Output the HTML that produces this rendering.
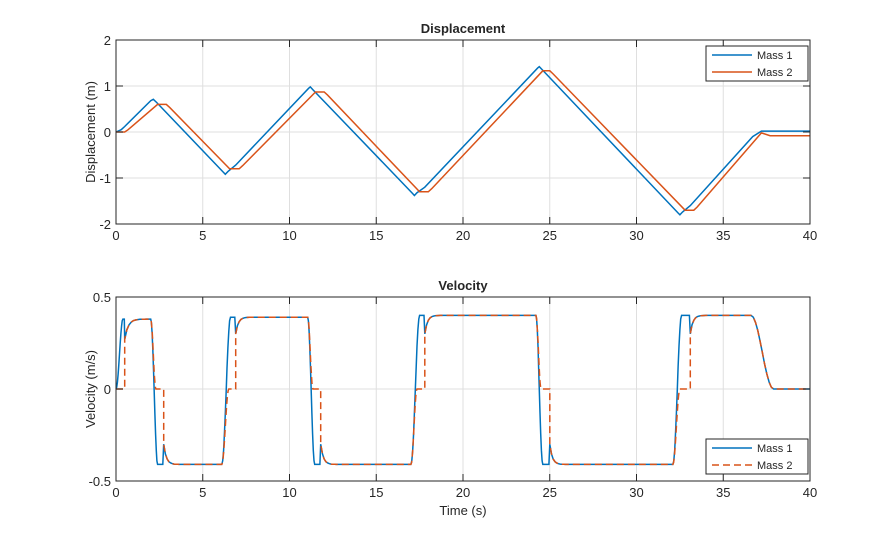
<!DOCTYPE html>
<html><head><meta charset="utf-8"><style>
body{margin:0;background:#fff;}
svg text{font-family:"Liberation Sans",Arial,sans-serif;fill:#262626;}
</style></head><body>
<svg id="s" width="895" height="540" xmlns="http://www.w3.org/2000/svg">
<rect width="895" height="540" fill="#fff"/>
<g id="g"></g>
</svg>
<script>
const g=document.getElementById('g');
let h='';
const X=t=>116+694*t/40;
function axes(top,bot,yt,ylab,title,yfmt){
  // grid
  for(let t=0;t<=40;t+=5){const x=X(t);h+=`<line x1="${x}" y1="${top}" x2="${x}" y2="${bot}" stroke="#dfdfdf" stroke-width="1"/>`;}
  yt.forEach(([v,y])=>{h+=`<line x1="116" y1="${y}" x2="810" y2="${y}" stroke="#dfdfdf"/>`;});
}
function frame(top,bot,yt,ylab,title){
  h+=`<rect x="116" y="${top}" width="694" height="${bot-top}" fill="none" stroke="#262626" stroke-width="1"/>`;
  for(let t=0;t<=40;t+=5){const x=X(t);h+=`<line x1="${x}" y1="${bot}" x2="${x}" y2="${bot-7}" stroke="#262626"/><line x1="${x}" y1="${top}" x2="${x}" y2="${top+7}" stroke="#262626"/><text x="${x}" y="${bot+16}" font-size="13" text-anchor="middle">${t}</text>`;}
  yt.forEach(([v,y])=>{h+=`<line x1="116" y1="${y}" x2="123" y2="${y}" stroke="#262626"/><line x1="810" y1="${y}" x2="803" y2="${y}" stroke="#262626"/><text x="111" y="${y+5}" font-size="13" text-anchor="end">${v}</text>`;});
  h+=`<text x="463" y="${top-7}" font-size="13" font-weight="bold" text-anchor="middle">${title}</text>`;
  const cy=(top+bot)/2;
  h+=`<text transform="translate(95,${cy}) rotate(-90)" font-size="13" text-anchor="middle">${ylab}</text>`;
}
function poly(pts,yf,col,dash){
  const s=pts.map(p=>X(p[0]).toFixed(1)+','+yf(p[1]).toFixed(1)).join(' ');
  h+=`<polyline points="${s}" fill="none" stroke="${col}" stroke-width="1.5" ${dash?'stroke-dasharray="7,4"':''}/>`;
}
const B='#0072bd',O='#d95319';
// top
const y1=v=>132-46*v;
axes(40,224,[[2,40],[1,86],[0,132],[-1,178],[-2,224]]);
poly([[0,0],[0.3,0.05],[0.5,0.12],[2.0,0.68],[2.15,0.71],[2.35,0.64],[6.2,-0.88],[6.3,-0.92],[6.45,-0.86],[6.9,-0.72],[11.1,0.95],[11.2,0.98],[11.35,0.92],[17.1,-1.34],[17.2,-1.38],[17.35,-1.32],[17.8,-1.2],[24.3,1.39],[24.4,1.42],[24.55,1.36],[32.4,-1.76],[32.5,-1.8],[32.65,-1.74],[33.1,-1.6],[36.7,-0.1],[37.2,0.02],[40,0.02]],y1,B);
poly([[0,0],[0.5,0],[0.7,0.05],[2.4,0.6],[2.9,0.6],[3.1,0.53],[6.55,-0.8],[7.1,-0.8],[7.3,-0.73],[11.5,0.87],[12.0,0.87],[12.2,0.8],[17.5,-1.3],[18.0,-1.3],[18.2,-1.23],[24.6,1.33],[25.0,1.33],[25.2,1.26],[32.8,-1.7],[33.3,-1.7],[33.5,-1.63],[37.2,-0.02],[37.7,-0.08],[40,-0.08]],y1,O);
frame(40,224,[[2,40],[1,86],[0,132],[-1,178],[-2,224]],'Displacement (m)','Displacement');
// bottom
const y2=v=>389-184*v;
axes(297,481,[[0.5,297],[0,389],[-0.5,481]]);
// smooth approach helper
function approach(t0,v0,v1,tau,dur){const a=[];for(let i=0;i<=12;i++){const t=t0+dur*i/12;a.push([t,v1+(v0-v1)*Math.exp(-(t-t0)/tau)]);}return a;}
function fall(t0,t1,v0,v1){const a=[];for(let i=0;i<=10;i++){const f=i/10;const s=(1-Math.cos(Math.PI*f))/2;a.push([t0+(t1-t0)*f,v0+(v1-v0)*s]);}return a;}
let m2=[[0,0],[0.5,0],[0.5,0.27]];
m2=m2.concat(approach(0.5,0.27,0.38,0.2,1.5));
m2=m2.concat(fall(2.0,2.3,0.38,0)).concat([[2.75,0],[2.75,-0.3]]).concat(approach(2.75,-0.3,-0.41,0.15,1.2));
m2=m2.concat([[6.1,-0.41]]).concat(fall(6.1,6.5,-0.41,0)).concat([[6.9,0],[6.9,0.3]]).concat(approach(6.9,0.3,0.39,0.15,1.2));
m2=m2.concat([[11.05,0.39]]).concat(fall(11.05,11.35,0.39,0)).concat([[11.8,0],[11.8,-0.3]]).concat(approach(11.8,-0.3,-0.41,0.15,1.2));
m2=m2.concat([[17.0,-0.41]]).concat(fall(17.0,17.35,-0.41,0)).concat([[17.8,0],[17.8,0.3]]).concat(approach(17.8,0.3,0.4,0.15,1.2));
m2=m2.concat([[24.2,0.4]]).concat(fall(24.2,24.5,0.4,0)).concat([[25.0,0],[25.0,-0.3]]).concat(approach(25.0,-0.3,-0.41,0.15,1.2));
m2=m2.concat([[32.1,-0.41]]).concat(fall(32.1,32.5,-0.41,0)).concat([[33.1,0],[33.1,0.3]]).concat(approach(33.1,0.3,0.4,0.15,1.2));
m2=m2.concat([[36.6,0.4]]).concat(fall(36.6,37.9,0.4,0)).concat([[40,0]]);
let m1=[];
m1=m1.concat(fall(0,0.4,0,0.38)).concat([[0.48,0.38],[0.5,0.27]]).concat(approach(0.5,0.27,0.38,0.2,1.5));
m1=m1.concat(fall(2.0,2.4,0.38,-0.41)).concat([[2.7,-0.41],[2.75,-0.3]]).concat(approach(2.75,-0.3,-0.41,0.15,1.2));
m1=m1.concat([[6.1,-0.41]]).concat(fall(6.1,6.6,-0.41,0.39)).concat([[6.85,0.39],[6.9,0.3]]).concat(approach(6.9,0.3,0.39,0.15,1.2));
m1=m1.concat([[11.05,0.39]]).concat(fall(11.05,11.45,0.39,-0.41)).concat([[11.75,-0.41],[11.8,-0.3]]).concat(approach(11.8,-0.3,-0.41,0.15,1.2));
m1=m1.concat([[17.0,-0.41]]).concat(fall(17.0,17.5,-0.41,0.4)).concat([[17.75,0.4],[17.8,0.3]]).concat(approach(17.8,0.3,0.4,0.15,1.2));
m1=m1.concat([[24.2,0.4]]).concat(fall(24.2,24.6,0.4,-0.41)).concat([[24.95,-0.41],[25.0,-0.3]]).concat(approach(25.0,-0.3,-0.41,0.15,1.2));
m1=m1.concat([[32.1,-0.41]]).concat(fall(32.1,32.6,-0.41,0.4)).concat([[33.05,0.4],[33.1,0.3]]).concat(approach(33.1,0.3,0.4,0.15,1.2));
m1=m1.concat([[36.6,0.4]]).concat(fall(36.6,37.9,0.4,0)).concat([[40,0]]);
poly(m1,y2,B);
poly(m2,y2,O,true);
frame(297,481,[[0.5,297],[0,389],[-0.5,481]],'Velocity (m/s)','Velocity');
h+=`<text x="463" y="515" font-size="13" text-anchor="middle">Time (s)</text>`;
// legends
function legend(y,dash){
  h+=`<rect x="706" y="${y}" width="102" height="35" fill="#fff" stroke="#262626"/>`;
  h+=`<line x1="712" y1="${y+9}" x2="752" y2="${y+9}" stroke="${B}" stroke-width="1.5"/><text x="757" y="${y+13}" font-size="11">Mass 1</text>`;
  h+=`<line x1="712" y1="${y+26}" x2="752" y2="${y+26}" stroke="${O}" stroke-width="1.5" ${dash?'stroke-dasharray="7,4"':''}/><text x="757" y="${y+30}" font-size="11">Mass 2</text>`;
}
legend(46,false);legend(439,true);
g.innerHTML=h;
</script>
</body></html>
